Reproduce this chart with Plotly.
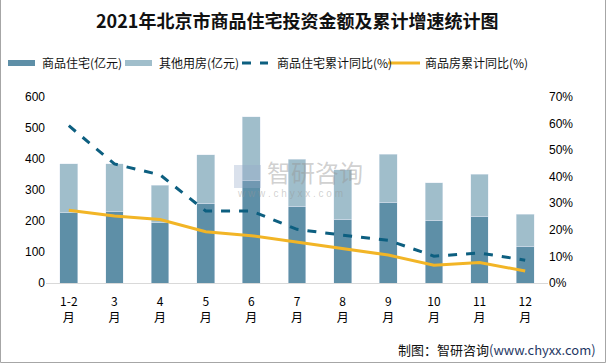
import plotly.graph_objects as go

months = ["1-2<br>月", "3<br>月", "4<br>月", "5<br>月", "6<br>月", "7<br>月", "8<br>月", "9<br>月", "10<br>月", "11<br>月", "12<br>月"]
residential = [227, 232, 194, 258, 330, 248, 206, 261, 203, 216, 119]
other = [157, 152, 122, 155, 206, 152, 159, 155, 120, 135, 103]
res_yoy = [59.2, 44.8, 40.7, 27.1, 27.1, 20.2, 18.0, 16.1, 10.1, 11.3, 8.6]
all_yoy = [27.4, 25.2, 23.9, 19.3, 17.8, 15.3, 13.0, 10.5, 6.7, 7.7, 4.5]

c_dark = "#5E8FA7"
c_light = "#A0BECB"
c_dash = "#0D5F80"
c_yellow = "#F2B526"

fig = go.Figure()
fig.add_trace(go.Bar(x=months, y=residential, name="商品住宅(亿元)", marker_color=c_dark, width=0.39))
fig.add_trace(go.Bar(x=months, y=other, name="其他用房(亿元)", marker_color=c_light, width=0.39))
fig.add_trace(go.Scatter(x=months, y=res_yoy, name="商品住宅累计同比(%)", yaxis="y2", mode="lines",
                         line=dict(color=c_dash, width=3, dash="dash")))
fig.add_trace(go.Scatter(x=months, y=all_yoy, name="商品房累计同比(%)", yaxis="y2", mode="lines",
                         line=dict(color=c_yellow, width=3)))

font_cjk = "Noto Sans CJK SC, Liberation Sans, sans-serif"

fig.update_layout(
    width=606, height=363,
    margin=dict(l=46, r=58, t=97, b=80),
    barmode="stack",
    showlegend=False,
    paper_bgcolor="white", plot_bgcolor="white",
    font=dict(family=font_cjk, size=12, color="#000000"),
    xaxis=dict(type="category", showgrid=False, showline=True, linecolor="#D9D9D9", linewidth=1,
               ticks="", tickfont=dict(size=12, family=font_cjk), ticklabelstandoff=8, fixedrange=True),
    yaxis=dict(range=[0, 600], dtick=100, showgrid=False, zeroline=False, showline=False,
               tickfont=dict(size=12, family="Liberation Sans, sans-serif")),
    yaxis2=dict(range=[0, 70], dtick=10, overlaying="y", side="right", showgrid=False, zeroline=False,
                ticksuffix="%", tickfont=dict(size=12, family="Liberation Sans, sans-serif")),
)

# Title
fig.add_annotation(text="<b>2021年北京市商品住宅投资金额及累计增速统计图</b>", xref="paper", yref="paper",
                   x=0.5, y=1, xanchor="center", yanchor="bottom", yshift=62, showarrow=False,
                   font=dict(size=18, family="Noto Sans CJK SC, serif", color="#111111"))

# Custom legend
legend_items = [
    ("rect", c_dark, 8, 35, "商品住宅(亿元)", 40),
    ("rect", c_light, 125, 152, "其他用房(亿元)", 157),
    ("dash", c_dash, 242, 268, "商品住宅累计同比(%)", 275),
    ("line", c_yellow, 388, 420, "商品房累计同比(%)", 423),
]
ly = 63
for kind, col, x0, x1, label, tx in legend_items:
    if kind == "rect":
        fig.add_shape(type="rect", xref="paper", yref="paper",
                      x0=(x0 - 46) / 502, x1=(x1 - 46) / 502,
                      y0=(283 - (ly + 3)) / 186, y1=(283 - (ly - 3)) / 186,
                      fillcolor=col, line=dict(width=0))
    else:
        fig.add_shape(type="line", xref="paper", yref="paper",
                      x0=(x0 - 46) / 502, x1=(x1 - 46) / 502,
                      y0=(283 - ly) / 186, y1=(283 - ly) / 186,
                      line=dict(color=col, width=3, dash="dash" if kind == "dash" else "solid"))
    fig.add_annotation(text=label, xref="paper", yref="paper", x=(tx - 46) / 502, y=(283 - ly) / 186,
                       xanchor="left", yanchor="middle", showarrow=False,
                       font=dict(size=12, family=font_cjk, color="#111111"))

# Watermark
fig.add_annotation(text="智研咨询", xref="paper", yref="paper", x=(265 - 46) / 502, y=(283 - 171) / 186,
                   xanchor="left", yanchor="middle", showarrow=False,
                   font=dict(size=24, family=font_cjk, color="rgba(150,150,150,0.45)"))
fig.add_annotation(text="w w w . c h y x x . c o m", xref="paper", yref="paper", x=(235 - 46) / 502,
                   y=(283 - 193) / 186, xanchor="left", yanchor="middle", showarrow=False,
                   font=dict(size=10, family="Liberation Sans, sans-serif", color="rgba(150,150,150,0.45)"))
fig.add_shape(type="rect", xref="paper", yref="paper", x0=(234 - 46) / 502, x1=(261 - 46) / 502,
              y0=(283 - 188) / 186, y1=(283 - 165) / 186, fillcolor="rgba(150,170,200,0.35)", line=dict(width=0))

# Footer
fig.add_annotation(text="制图：智研咨询<span style='color:#1F3864'>(www.chyxx.com)</span>", xref="paper", yref="paper",
                   x=(598 - 46) / 502, y=(283 - 349) / 186, xanchor="right", yanchor="middle", showarrow=False,
                   font=dict(size=13, family=font_cjk, color="#111111"))

# Frame border
fig.add_shape(type="rect", xref="paper", yref="paper", x0=(0.5 - 46) / 502, x1=(605.5 - 46) / 502,
              y0=(283 - 362.5) / 186, y1=(283 + 5) / 186 + 1, line=dict(color="#A6A6A6", width=1))

fig.write_html("out.html", config={"displayModeBar": False},
               post_script="document.body.style.margin='0';document.body.style.overflow='hidden';")
